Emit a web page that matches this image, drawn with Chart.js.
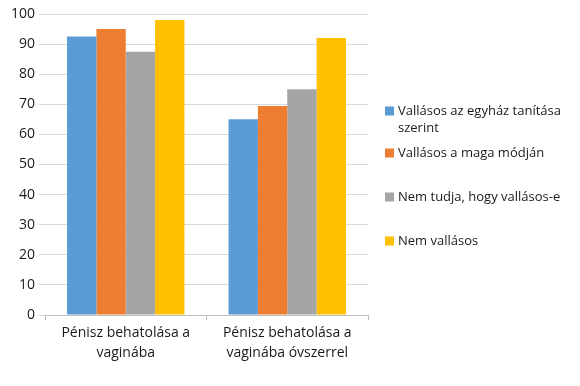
<!DOCTYPE html>
<html><head><meta charset="utf-8">
<script src="https://cdn.jsdelivr.net/npm/chart.js@4"></script>
<style>html,body{margin:0;padding:0;background:#fff}#wrap{width:580px;height:386px}</style>
</head><body><div id="wrap"><canvas id="c" width="580" height="386"></canvas></div>
<script>
const categories = [["Pénisz behatolása a","vaginába"],["Pénisz behatolása a","vaginába óvszerrel"]];
const seriesNames = [["Vallásos az egyház tanítása","szerint"],["Vallásos a maga módján"],["Nem tudja, hogy vallásos-e"],["Nem vallásos"]];
const valuesReligiousChurch = [92.5, 65];
const valuesReligiousOwn = [95, 69.4];
const valuesDontKnow = [87.5, 75];
const valuesNotReligious = [98, 92];
const tickValues = [0,10,20,30,40,50,60,70,80,90,100];
const colors = ["#5b9bd5","#ed7d31","#a5a5a5","#ffc000"];
const FONT = "'Open Sans', sans-serif";

const legendPlugin = {
  id: 'sideLegend',
  afterDraw(chart) {
    const ctx = chart.ctx;
    const ys = [111, 153, 197, 241];
    ctx.save();
    ctx.font = "13px " + FONT;
    ctx.textBaseline = 'middle';
    ctx.textAlign = 'left';
    chart.data.datasets.forEach((ds, i) => {
      const y = ys[i];
      ctx.fillStyle = ds.backgroundColor;
      ctx.fillRect(385, y - 4.5, 9, 9);
      ctx.fillStyle = '#1a1a1a';
      const lines = Array.isArray(ds.legendLines) ? ds.legendLines : [ds.label];
      lines.forEach((ln, j) => ctx.fillText(ln, 398, y + j * 17));
    });
    ctx.restore();
  }
};

new Chart(document.getElementById('c'), {
  type: 'bar',
  data: {
    labels: categories,
    datasets: [valuesReligiousChurch, valuesReligiousOwn, valuesDontKnow, valuesNotReligious].map((d, i) => ({
      label: seriesNames[i].join(' '),
      legendLines: seriesNames[i],
      data: d,
      backgroundColor: colors[i],
      borderWidth: 0,
      barPercentage: 1,
      categoryPercentage: 0.727
    }))
  },
  options: {
    responsive: false,
    animation: false,
    layout: { padding: { top: 14, right: 212, left: 0, bottom: 0 } },
    plugins: { legend: { display: false }, tooltip: { enabled: false } },
    scales: {
      x: {
        grid: { display: true, drawOnChartArea: false, drawTicks: true, tickLength: 5, offset: true, color: '#bfbfbf' },
        border: { display: true, color: '#bfbfbf' },
        ticks: { color: '#1a1a1a', font: { family: FONT, size: 14, lineHeight: 1.45 }, padding: 3, maxRotation: 0 },
        afterFit(s) { s.height = 71; }
      },
      y: {
        min: 0, max: 100,
        afterBuildTicks(s) { s.ticks = tickValues.map(v => ({ value: v })); },
        grid: { color: '#d9d9d9', tickLength: 6, drawTicks: true },
        border: { display: false },
        ticks: { color: '#1a1a1a', font: { family: FONT, size: 14 }, padding: 4 },
        afterFit(s) { s.width = 45; }
      }
    }
  },
  plugins: [legendPlugin]
});
</script></body></html>
